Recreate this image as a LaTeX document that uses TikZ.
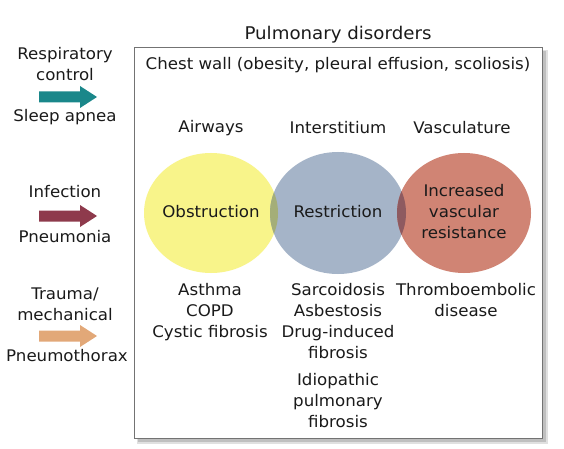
\documentclass[tikz,border=0pt]{standalone}
\usepackage{fontspec}
\setmainfont[FakeStretch=1.04]{DejaVu Sans}
\definecolor{tealA}{HTML}{1A878A}
\definecolor{maroonA}{HTML}{8E3A4C}
\definecolor{tanA}{HTML}{E2A878}
\definecolor{yel}{HTML}{F8F48A}
\definecolor{blu}{HTML}{A5B4C8}
\definecolor{redc}{HTML}{D08474}
\definecolor{yb}{HTML}{A4AE78}
\definecolor{br}{HTML}{8E5A60}
\definecolor{txt}{HTML}{1A1A1A}
\begin{document}
\begin{tikzpicture}[x=1pt,y=-1pt,
  lbl/.style={font=\fontsize{16}{21}\selectfont, text=txt, align=center, inner sep=0pt}]
\useasboundingbox (0,0) rectangle (564,449);
% box with shadow
\fill[black!12] (137,50) rectangle (548,444);
\fill[black!25] (138,51) rectangle (546,442);
\node[draw=black!55, fill=white, line width=0.9pt, minimum width=408pt, minimum height=391pt, inner sep=0pt] (box) at (338,242.5) {};
\node[lbl, font=\fontsize{17.5}{21}\selectfont] (title) at (338,35) {Pulmonary disorders};
\node[lbl] (chest) at (338,65) {Chest wall (obesity, pleural effusion, scoliosis)};
\node[lbl] (air) at (211,128) {Airways};
\node[lbl] (inter) at (338,128) {Interstitium};
\node[lbl] (vasc) at (462,128) {Vasculature};
% circles
\fill[yel] (211,213) ellipse [x radius=67, y radius=60];
\fill[blu] (338,213) ellipse [x radius=68, y radius=61];
\fill[redc] (464,213) ellipse [x radius=67, y radius=60];
\begin{scope}
\clip (211,213) ellipse [x radius=67, y radius=60];
\fill[yb] (338,213) ellipse [x radius=68, y radius=61];
\end{scope}
\begin{scope}
\clip (464,213) ellipse [x radius=67, y radius=60];
\fill[br] (338,213) ellipse [x radius=68, y radius=61];
\end{scope}
\node[lbl] (obs) at (211,212) {Obstruction};
\node[lbl] (res) at (338,212) {Restriction};
\node[lbl] (ivr) at (464,212) {Increased\\vascular\\resistance};
% lists
\node[lbl, anchor=north] (l1) at (210,283) {Asthma\\COPD\\Cystic fibrosis};
\node[lbl, anchor=north] (l2) at (338,283) {Sarcoidosis\\Asbestosis\\Drug-induced\\fibrosis};
\node[lbl, anchor=north] (l3) at (338,373) {Idiopathic\\pulmonary\\fibrosis};
\node[lbl, anchor=north] (l4) at (466,283) {Thromboembolic\\disease};
% left side
\node[lbl] (rc) at (65,64) {Respiratory\\control};
\node[lbl] (sa) at (65,117) {Sleep apnea};
\node[lbl] (inf) at (65,192) {Infection};
\node[lbl] (pn) at (65,237) {Pneumonia};
\node[lbl] (tm) at (65,304) {Trauma/\\mechanical};
\node[lbl] (px) at (67,356) {Pneumothorax};
\foreach \yy/\cc in {97/tealA, 216/maroonA, 336/tanA}{
  \fill[\cc] (39,\yy-5.5) -- (80,\yy-5.5) -- (80,\yy-11) -- (97,\yy) -- (80,\yy+11) -- (80,\yy+5.5) -- (39,\yy+5.5) -- cycle;
}
\end{tikzpicture}
\end{document}
